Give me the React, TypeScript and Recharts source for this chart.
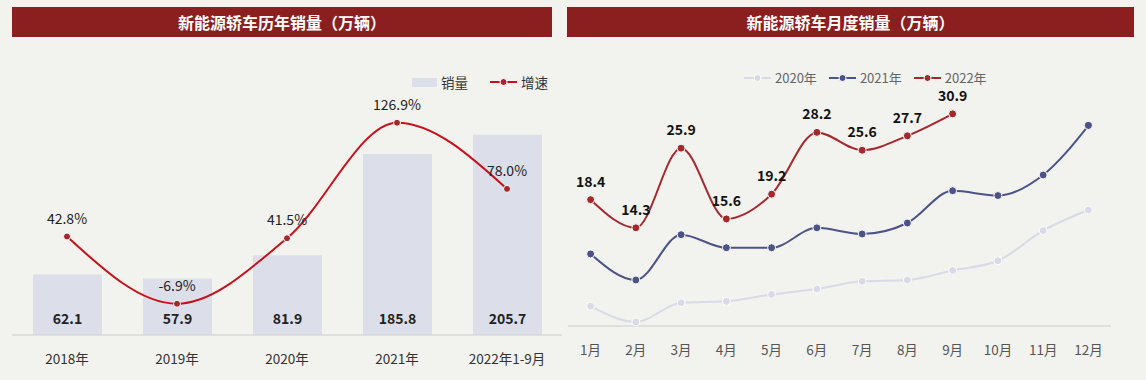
import React from "react";
import {
  ComposedChart,
  LineChart,
  Bar,
  Line,
  XAxis,
  YAxis,
  LabelList,
} from "recharts";

// 历年销量
const years = ["2018年", "2019年", "2020年", "2021年", "2022年1-9月"];
const sales = [62.1, 57.9, 81.9, 185.8, 205.7];
const growth = [42.8, -6.9, 41.5, 126.9, 78.0];

// 月度销量
const months = ["1月", "2月", "3月", "4月", "5月", "6月", "7月", "8月", "9月", "10月", "11月", "12月"];
const sales2020 = [2.9, 0.6, 3.4, 3.6, 4.6, 5.4, 6.5, 6.7, 8.1, 9.5, 13.9, 16.9];
const sales2021 = [10.5, 6.7, 13.3, 11.4, 11.4, 14.3, 13.4, 15.0, 19.7, 19.0, 22.0, 29.2];
const sales2022 = [18.4, 14.3, 25.9, 15.6, 19.2, 28.2, 25.6, 27.7, 30.9, null, null, null];

const FONT = '"Noto Sans CJK SC", "Noto Sans", sans-serif';
const BG = "#F2F2EE";
const TITLE_BG = "#8B1E1F";
const AXIS = "#D9D9D9";

const yearData = years.map((year, i) => ({ year, sales: sales[i], growth: growth[i] }));
const monthData = months.map((month, i) => ({
  month,
  y2020: sales2020[i],
  y2021: sales2021[i],
  y2022: sales2022[i],
}));

const monthSeries = [
  { key: "y2020", name: "2020年", color: "#D8DAE7" },
  { key: "y2021", name: "2021年", color: "#4B5387" },
  { key: "y2022", name: "2022年", color: "#A4282D" },
];

function TitleBar({ text, left, width }: { text: string; left: number; width: number }) {
  return (
    <div
      style={{
        position: "absolute",
        left,
        top: 7,
        width,
        height: 30,
        background: TITLE_BG,
        color: "#fff",
        fontWeight: 700,
        fontSize: 16,
        lineHeight: "30px",
        textAlign: "center",
      }}
    >
      {text}
    </div>
  );
}

const barLabel = (props: any) => {
  const { x, y, width, height, value } = props;
  return (
    <text
      x={x + width / 2}
      y={y + height - 17}
      textAnchor="middle"
      dominantBaseline="central"
      fontSize={14}
      fontWeight={700}
      fill="#222"
    >
      {value}
    </text>
  );
};

const pctLabel = (props: any) => {
  const { x, y, value } = props;
  return (
    <text x={x} y={y - 19} textAnchor="middle" dominantBaseline="central" fontSize={14} fill="#222">
      {Number(value).toFixed(1)}%
    </text>
  );
};

const monthLabel = (props: any) => {
  const { x, y, value } = props;
  if (value == null) return null;
  return (
    <text x={x} y={y - 19} textAnchor="middle" dominantBaseline="central" fontSize={14} fontWeight={700} fill="#111">
      {Number(value).toFixed(1)}
    </text>
  );
};

function LineSwatch({ color, dot }: { color: string; dot: string }) {
  return (
    <svg width={27} height={10} style={{ marginRight: 4 }}>
      <line x1={0} y1={5} x2={27} y2={5} stroke={color} strokeWidth={2} />
      <circle cx={13.5} cy={5} r={3.5} fill={dot} stroke="#fff" strokeWidth={1} />
    </svg>
  );
}

function YearChart() {
  return (
    <div style={{ position: "absolute", left: 0, top: 0 }}>
      <ComposedChart
        width={566}
        height={380}
        data={yearData}
        margin={{ top: 91.5, right: 4, bottom: 15, left: 12 }}
      >
        <XAxis
          dataKey="year"
          axisLine={{ stroke: AXIS, strokeWidth: 1.5 }}
          tickLine={false}
          tick={{ fontSize: 13.5, fill: "#333" }}
          tickMargin={13}
        />
        <YAxis yAxisId="v" hide domain={[0, 250]} />
        <YAxis yAxisId="g" orientation="right" hide domain={[-30, 150]} />
        <Bar yAxisId="v" dataKey="sales" fill="#DCDFEA" barSize={69} isAnimationActive={false}>
          <LabelList dataKey="sales" content={barLabel} />
        </Bar>
        <Line
          yAxisId="g"
          type="monotone"
          dataKey="growth"
          stroke="#C8101A"
          strokeWidth={2}
          dot={{ r: 3.5, fill: "#A3282D", stroke: "#fff", strokeWidth: 1 }}
          isAnimationActive={false}
        >
          <LabelList dataKey="growth" content={pctLabel} />
        </Line>
      </ComposedChart>
      <div
        style={{
          position: "absolute",
          left: 412,
          top: 72,
          display: "flex",
          alignItems: "center",
          fontSize: 13.5,
          color: "#333",
          whiteSpace: "nowrap",
        }}
      >
        <span style={{ width: 25, height: 9, background: "#DCDFEA", marginRight: 4, display: "inline-block" }} />
        <span style={{ marginRight: 22 }}>销量</span>
        <LineSwatch color="#C8101A" dot="#A3282D" />
        <span>增速</span>
      </div>
    </div>
  );
}

function MonthChart() {
  return (
    <div style={{ position: "absolute", left: 566, top: 0 }}>
      <LineChart
        width={580}
        height={380}
        data={monthData}
        margin={{ top: 85.7, right: 35, bottom: 24, left: 2 }}
      >
        <XAxis
          dataKey="month"
          axisLine={{ stroke: AXIS, strokeWidth: 1.5 }}
          tickLine={false}
          tick={{ fontSize: 13.5, fill: "#555" }}
          tickMargin={13}
          padding={{ left: 22.6, right: 22.6 }}
        />
        <YAxis hide domain={[0, 35]} />
        {monthSeries.map((s) => (
          <Line
            key={s.key}
            type="monotone"
            dataKey={s.key}
            stroke={s.color}
            strokeWidth={2}
            dot={{ r: 4, fill: s.color, stroke: "#fff", strokeWidth: 1 }}
            isAnimationActive={false}
          >
            {s.key === "y2022" && <LabelList dataKey={s.key} content={monthLabel} />}
          </Line>
        ))}
      </LineChart>
      <div
        style={{
          position: "absolute",
          left: 178,
          top: 68,
          display: "flex",
          alignItems: "center",
          fontSize: 13,
          color: "#666",
          whiteSpace: "nowrap",
        }}
      >
        {monthSeries.map((s) => (
          <span key={s.key} style={{ display: "flex", alignItems: "center", marginRight: 12 }}>
            <LineSwatch color={s.color} dot={s.color} />
            {s.name}
          </span>
        ))}
      </div>
    </div>
  );
}

export default function App() {
  return (
    <div
      style={{
        position: "fixed",
        left: 0,
        top: 0,
        width: 1146,
        height: 380,
        background: BG,
        fontFamily: FONT,
        overflow: "hidden",
      }}
    >
      <TitleBar text="新能源轿车历年销量（万辆）" left={12} width={540} />
      <TitleBar text="新能源轿车月度销量（万辆）" left={567} width={567} />
      <YearChart />
      <MonthChart />
    </div>
  );
}
